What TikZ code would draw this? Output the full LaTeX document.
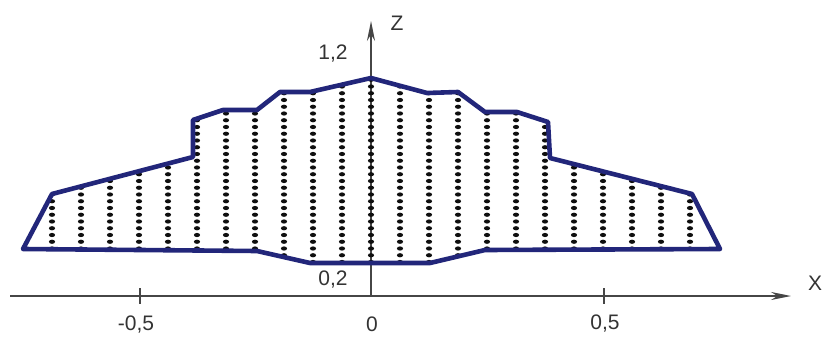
\documentclass[tikz,border=0pt]{standalone}
\usepackage{fontspec}
\setmainfont{Liberation Sans}
\usetikzlibrary{arrows.meta}
\definecolor{outlinecol}{RGB}{34,38,122}
\definecolor{axiscol}{RGB}{70,70,70}
\definecolor{dotcol}{RGB}{15,15,15}
\begin{document}
\begin{tikzpicture}[x=1pt,y=-1pt,
  axisline/.style={draw=axiscol,line width=1.5pt},
  ticks/.style={draw=axiscol,line width=1.5pt},
  lbl/.style={inner sep=0pt,font=\fontsize{21}{24}\selectfont,text=black!80},
  outline/.style={draw=outlinecol,line width=4.6pt,line join=round},
  dotmark/.style={fill=dotcol}]
\useasboundingbox (0,0) rectangle (829,345);
\fill[white] (0,0) rectangle (829,345);
% axes
\coordinate (xs) at (10,296);
\coordinate (xe) at (791,296);
\coordinate (zs) at (371,296);
\coordinate (ze) at (371,21);
\draw[axisline,-{Stealth[length=20pt,width=8pt]}] (xs) -- (xe);
\draw[axisline,-{Stealth[length=20pt,width=8pt]}] (zs) -- (ze);
\coordinate (t1a) at (140,288); \coordinate (t1b) at (140,304);
\coordinate (t2a) at (604,288); \coordinate (t2b) at (604,304);
\draw[ticks] (t1a) -- (t1b);
\draw[ticks] (t2a) -- (t2b);
% shape path
\def\shapepath{(23,249) -- (52,194) -- (193,157) -- (193,120) -- (223,110) -- (257,110) -- (280,92) -- (310,92) -- (371,78) -- (427,93) -- (458,92) -- (485,112) -- (517,112) -- (548,122) -- (550,158) -- (692,194) -- (720,249) -- (485,250) -- (430,263) -- (310,263) -- (257,251) -- cycle}
\begin{scope}
\clip \shapepath;
\foreach \k in {-11,...,11}{
  \foreach \r in {0,...,28}{
    \fill[dotmark] (371+29*\k,262-6.75*\r) ellipse (3.1pt and 2.1pt);
  }
}
\end{scope}
\draw[outline] \shapepath;
% labels
\node[lbl] (zlab) at (397,23) {Z};
\node[lbl] (xlab) at (815,283) {X};
\node[lbl] (z12) at (333,54) {1,2};
\node[lbl] (z02) at (333,280) {0,2};
\node[lbl] (xm05) at (136,325) {-0,5};
\node[lbl] (x0) at (372,324) {0};
\node[lbl] (x05) at (605,324) {0,5};
\end{tikzpicture}
\end{document}
